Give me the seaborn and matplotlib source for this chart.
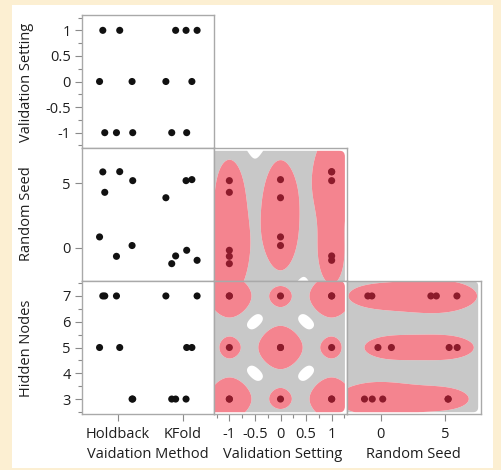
import numpy as np
import pandas as pd
import matplotlib
matplotlib.use("Agg")
import matplotlib.pyplot as plt
from matplotlib.patches import Rectangle, FancyBboxPatch
from matplotlib.ticker import MultipleLocator, FixedLocator
import seaborn as sns

# ---------------------------------------------------------------- data
method = ["Holdback", "Holdback", "Holdback", "Holdback", "KFold", "KFold", "KFold",
          "Holdback", "Holdback", "Holdback", "KFold", "KFold", "KFold", "KFold"]
method_jitter = [-0.23, 0.03, 0.23, -0.20, -0.26, 0.05, 0.14,
                 -0.28, -0.02, 0.22, -0.17, -0.11, 0.06, 0.22]
validation_setting = [1, 1, -1, -1, 0, 1, 0, 0, -1, 0, -1, 1, -1, 1]
random_seed = [5.89, 5.91, 5.21, 4.30, 3.88, 5.21, 5.29,
               0.83, -0.68, 0.16, -1.25, -0.65, -0.21, -0.99]
hidden_nodes = [7, 5, 3, 7, 7, 3, 5, 5, 7, 3, 3, 3, 5, 7]

method_levels = ["Holdback", "KFold"]
setting_ticks = [-1, -0.5, 0, 0.5, 1]
setting_labels = ["-1", "-0.5", "0", "0.5", "1"]
seed_ticks = [0, 5]
seed_labels = ["0", "5"]
nodes_ticks = [3, 4, 5, 6, 7]
nodes_labels = ["3", "4", "5", "6", "7"]

df = pd.DataFrame({
    "method": method,
    "setting": validation_setting,
    "seed": random_seed,
    "nodes": hidden_nodes,
})
df["method_pos"] = df["method"].map({m: i for i, m in enumerate(method_levels)}) + np.array(method_jitter)

# ---------------------------------------------------------------- style
sns.set_theme(style="white")
plt.rcParams["font.family"] = ["Open Sans", "DejaVu Sans"]
plt.rcParams["axes.unicode_minus"] = False

CREAM = "#FCEFD2"
FRAME = "#A9A9A9"
TICK = "#8A8A8A"
TEXT = "#1E1E1E"
GRAY = "#C8C8C8"
PINK = "#F4848F"
DARKRED = "#8C1B2B"
FS = 10.5

W, H = 501, 470
fig = plt.figure(figsize=(W / 100, H / 100), dpi=100)
fig.patch.set_facecolor(CREAM)
fig.add_artist(Rectangle((12 / W, 1 - 468 / H), (493 - 12) / W, (468 - 5) / H,
                         transform=fig.transFigure, facecolor="white",
                         edgecolor="none", zorder=0))

col_x = [82, 214, 347]
col_w = [132, 133, 134]
row_y = [15, 148, 281]
row_h = 133

limits = {
    "method_pos": (-0.55, 1.48),
    "setting": (-1.30, 1.30),
    "seed": (-2.6, 7.75),
    "nodes": (2.42, 7.58),
}
# extent of the density grid for each variable
grid_ext = {
    "setting": (-1.30, 1.26),
    "seed": (-2.6, 7.55),
    "nodes": (2.48, 7.58),
}
# kernel bandwidth for each variable
bandwidth = {"setting": 0.29, "seed": 2.6, "nodes": 0.57}
# shading thresholds (share of the peak density): outer band, core
shade_levels = {
    ("setting", "seed"): (0.20, 0.46),
    ("setting", "nodes"): (0.175, 0.40),
    ("seed", "nodes"): (0.12, 0.55),
}

rows = ["setting", "seed", "nodes"]
cols = ["method_pos", "setting", "seed"]
row_titles = ["Validation Setting", "Random Seed", "Hidden Nodes"]
col_titles = ["Vaidation Method", "Validation Setting", "Random Seed"]


def kde_surface(xv, yv, hx, hy, gx, gy):
    X, Y = np.meshgrid(gx, gy)
    Z = np.zeros_like(X)
    for a, b in zip(xv, yv):
        Z += np.exp(-0.5 * ((X - a) / hx) ** 2 - 0.5 * ((Y - b) / hy) ** 2)
    return X, Y, Z


def kde_at(xv, yv, hx, hy, px, py):
    xv = np.asarray(xv); yv = np.asarray(yv)
    return np.array([np.exp(-0.5 * ((a - xv) / hx) ** 2 - 0.5 * ((b - yv) / hy) ** 2).sum()
                     for a, b in zip(px, py)])


def style_axis(ax, var, which):
    if var == "method_pos":
        ticks, labels, minor = [0, 1], method_levels, None
    elif var == "setting":
        ticks, labels, minor = setting_ticks, setting_labels, 0.25
    elif var == "seed":
        ticks, labels, minor = seed_ticks, seed_labels, None
    else:
        ticks, labels, minor = nodes_ticks, nodes_labels, 0.5
    axis = ax.xaxis if which == "x" else ax.yaxis
    axis.set_major_locator(FixedLocator(ticks))
    axis.set_ticklabels(labels)
    if minor:
        axis.set_minor_locator(MultipleLocator(minor))


def frac(v, lim):
    return (v - lim[0]) / (lim[1] - lim[0])


for r, yvar in enumerate(rows):
    for c, xvar in enumerate(cols):
        if c > r:
            continue
        ax = fig.add_axes([col_x[c] / W, 1 - (row_y[r] + row_h) / H,
                           col_w[c] / W, row_h / H])
        ax.set_facecolor("white")
        ax.set_xlim(*limits[xvar])
        ax.set_ylim(*limits[yvar])
        for s in ax.spines.values():
            s.set_color(FRAME)
            s.set_linewidth(1.0)
            s.set_zorder(5)

        if xvar != "method_pos":
            hx, hy = bandwidth[xvar], bandwidth[yvar]
            gx = np.linspace(*grid_ext[xvar], 300)
            gy = np.linspace(*grid_ext[yvar], 300)
            X, Y, Z = kde_surface(df[xvar], df[yvar], hx, hy, gx, gy)
            lo_f, hi_f = shade_levels[(xvar, yvar)]
            lo, hi = lo_f * Z.max(), hi_f * Z.max()
            cs = ax.contourf(X, Y, Z, levels=[lo, hi, Z.max() * 1.01],
                             colors=[GRAY, PINK], zorder=1, antialiased=True)
            # rounded outline of the density grid
            x0 = frac(grid_ext[xvar][0], limits[xvar])
            x1 = frac(grid_ext[xvar][1], limits[xvar])
            y0 = frac(grid_ext[yvar][0], limits[yvar])
            y1 = frac(grid_ext[yvar][1], limits[yvar])
            x0 = -0.1 if x0 <= 0.001 else x0
            y0 = -0.1 if y0 <= 0.001 else y0
            clip = FancyBboxPatch((x0, y0), x1 - x0, y1 - y0,
                                  boxstyle="round,pad=0,rounding_size=0.045",
                                  transform=ax.transAxes, facecolor="none",
                                  edgecolor="none")
            ax.add_patch(clip)
            cs.set_clip_path(clip)
            dens = kde_at(df[xvar], df[yvar], hx, hy, df[xvar], df[yvar])
            group = pd.Series(np.where(dens >= hi, "in", "out"))
        else:
            group = pd.Series(["out"] * len(df))

        sns.scatterplot(x=df[xvar], y=df[yvar], hue=group,
                        palette={"in": DARKRED, "out": "#111111"},
                        s=26, linewidth=0, legend=False, ax=ax, zorder=4)
        ax.set_xlabel("")
        ax.set_ylabel("")

        style_axis(ax, xvar, "x")
        style_axis(ax, yvar, "y")
        ax.tick_params(which="major", length=5, width=0.8, color=TICK,
                       labelsize=FS, labelcolor=TEXT, pad=3)
        ax.tick_params(which="minor", length=3, width=0.8, color=TICK)
        ax.tick_params(axis="x", which="both", bottom=(r == 2), top=False,
                       labelbottom=(r == 2))
        ax.tick_params(axis="x", which="major", pad=4)
        ax.tick_params(axis="y", which="both", left=(c == 0), right=False,
                       labelleft=(c == 0))
        ax.set_xlim(*limits[xvar])
        ax.set_ylim(*limits[yvar])

# axis titles
row_centers = [82, 214, 348]
for t, yc in zip(row_titles, row_centers):
    fig.text(27 / W, 1 - yc / H, t, rotation=90, ha="center", va="center",
             fontsize=FS, color=TEXT)
col_centers = [148, 283, 413]
for t, xc in zip(col_titles, col_centers):
    fig.text(xc / W, 1 - 454 / H, t, ha="center", va="center",
             fontsize=FS, color=TEXT)

fig.savefig("out.png", dpi=100, facecolor=fig.get_facecolor())
